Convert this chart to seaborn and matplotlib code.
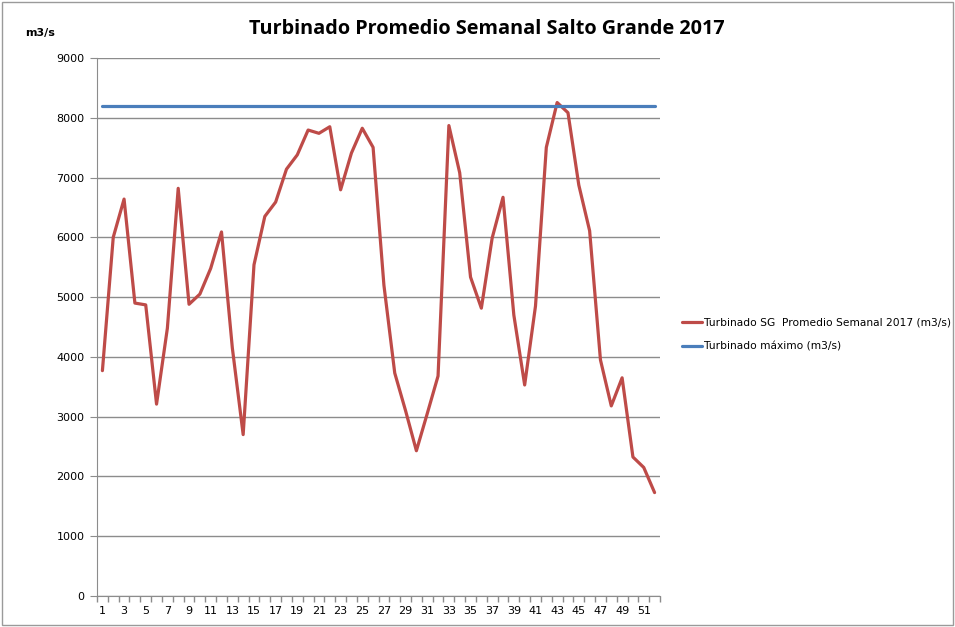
import pandas as pd
import seaborn as sns
import matplotlib.pyplot as plt
from matplotlib.patches import Rectangle
from matplotlib.ticker import MultipleLocator, FixedLocator

# weekly average turbined flow, Salto Grande 2017
semanas = list(range(1, 53))
turbinado = [3770, 6000, 6640, 4900, 4870, 3210, 4480, 6820, 4880, 5050,
             5480, 6090, 4150, 2700, 5540, 6350, 6590, 7140, 7380, 7795,
             7740, 7850, 6795, 7410, 7825, 7505, 5200, 3730, 3100, 2430,
             3050, 3680, 7870, 7080, 5335, 4815, 5990, 6670, 4700, 3530,
             4850, 7505, 8255, 8085, 6875, 6110, 3950, 3180, 3650, 2325,
             2150, 1730]
turbinado_max = [8190] * 52

serie_sg = 'Turbinado SG  Promedio Semanal 2017 (m3/s)'
serie_max = 'Turbinado máximo (m3/s)'

df = pd.DataFrame({'Semana': semanas * 2,
                   'Caudal': turbinado + turbinado_max,
                   'Serie': [serie_sg] * 52 + [serie_max] * 52})

sns.set_style('white')
plt.rcParams['font.family'] = ['DejaVu Sans']
plt.rcParams['text.color'] = 'black'

fig = plt.figure(figsize=(9.55, 6.27), dpi=100)
ax = fig.add_axes([97 / 955, 1 - 596 / 627, (660 - 97) / 955, (596 - 58) / 627])

sns.lineplot(data=df, x='Semana', y='Caudal', hue='Serie',
             palette={serie_sg: '#BE4B48', serie_max: '#4A7EBB'},
             linewidth=2.3, ax=ax, legend=False)

ax.set_xlim(0.5, 52.5)
ax.set_ylim(0, 9000)
ax.yaxis.set_major_locator(MultipleLocator(1000))
ax.grid(axis='y', color='#8c8c8c', linewidth=1)
ax.set_axisbelow(True)
ax.xaxis.set_major_locator(FixedLocator(semanas[::2]))
ax.xaxis.set_minor_locator(FixedLocator([s - 0.5 for s in semanas] + [52.5]))
ax.tick_params(axis='x', which='major', length=0, labelsize=8, pad=7,
               labelcolor='black')
ax.tick_params(axis='x', which='minor', length=4, width=1, color='#8c8c8c',
               direction='out', bottom=True)
ax.tick_params(axis='y', length=5, color='#8c8c8c', labelsize=8, pad=4,
               left=True, labelcolor='black')
for s in ['top', 'right']:
    ax.spines[s].set_visible(False)
for s in ['left', 'bottom']:
    ax.spines[s].set_color('#8c8c8c')
ax.set_xlabel('')
ax.set_ylabel('')

fig.text(487 / 955, 1 - 29 / 627, 'Turbinado Promedio Semanal Salto Grande 2017',
         ha='center', va='center', fontsize=14.3, fontweight='bold',
         family='Open Sans', color='black')
fig.text(40 / 955, 1 - 33 / 627, 'm3/s', ha='center', va='center',
         fontsize=8, fontweight='bold', color='black')

handles = [plt.Line2D([], [], color='#BE4B48', lw=2.3),
           plt.Line2D([], [], color='#4A7EBB', lw=2.3)]
fig.legend(handles, [serie_sg, serie_max], loc='upper left',
           bbox_to_anchor=(672 / 955, 1 - 308 / 627), frameon=False,
           fontsize=7.7, handlelength=1.9, handletextpad=0.15,
           labelspacing=1.3, labelcolor='black')

fig.add_artist(Rectangle((0.002, 0.003), 0.996, 0.994, transform=fig.transFigure,
                         fill=False, edgecolor='#9a9a9a', linewidth=1))

fig.savefig('out.png', dpi=100)
